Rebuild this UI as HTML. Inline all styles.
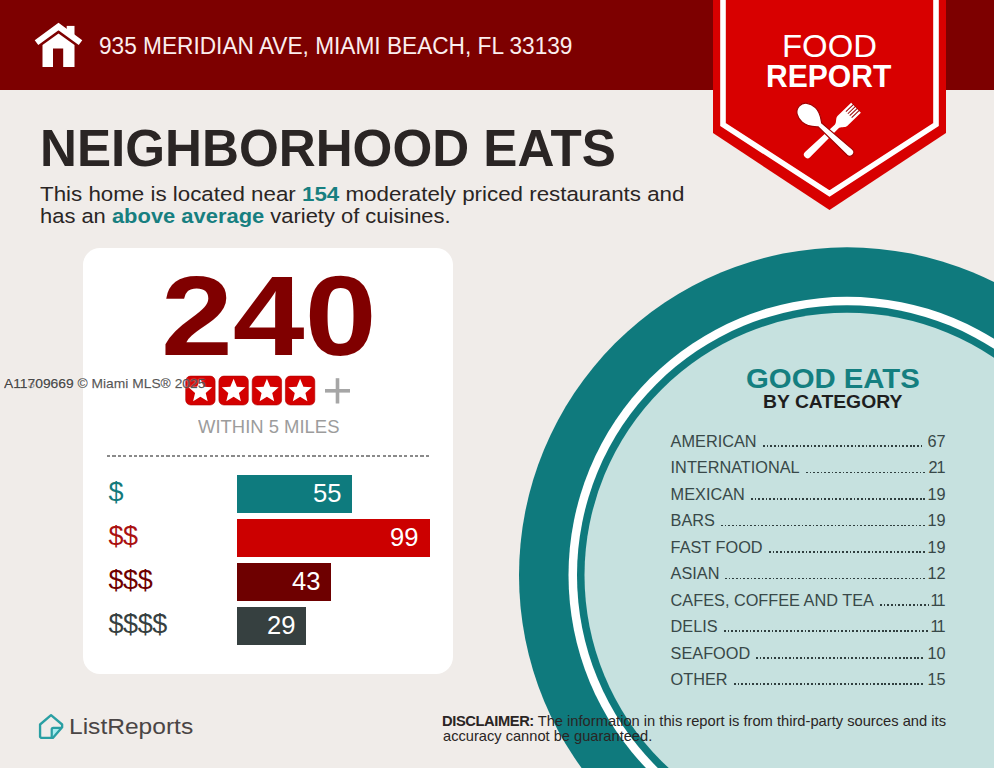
<!DOCTYPE html>
<html><head><meta charset="utf-8">
<style>
html,body{margin:0;padding:0;}
body{width:994px;height:768px;overflow:hidden;position:relative;background:#f0ece9;font-family:"Liberation Sans",sans-serif;}
.a{position:absolute;white-space:nowrap;}
#hdr{position:absolute;left:0;top:0;width:994px;height:90px;background:#7d0000;}
.row{position:absolute;left:670.6px;width:275px;display:flex;align-items:baseline;font-size:16.3px;line-height:16.3px;color:#384848;white-space:nowrap;}
.row .dt{flex:1;height:1.7px;margin:0 5px 0 6px;background:repeating-linear-gradient(90deg,#2f3f3f 0 1.7px,transparent 1.7px 3.67px);}
</style></head><body>
<div id="hdr"></div>

<!-- teal circle -->
<svg class="a" style="left:0;top:0" width="994" height="768">
  <circle cx="847" cy="575.3" r="328" fill="#0f7a7d"/>
  <circle cx="847" cy="575.3" r="278.5" fill="#ffffff"/>
  <circle cx="847" cy="575.3" r="270" fill="#0f7a7d"/>
  <circle cx="847" cy="575.3" r="262.5" fill="#c6e1df"/>
</svg>

<!-- banner -->
<svg class="a" style="left:0;top:0" width="994" height="768">
  <polygon points="713,0 946,0 946,133 829.5,210 713,133" fill="#d80000"/>
  <polyline points="723,-5 723,124.5 829.5,193.5 936,124.5 936,-5" fill="none" stroke="#ffffff" stroke-width="5.6"/>
</svg>

<!-- house icon -->
<svg class="a" style="left:0;top:0" width="100" height="90">
  <rect x="66.7" y="25.9" width="7.8" height="9.5" fill="#fff"/>
  <polyline points="36.5,42.7 58.5,26.5 80.5,42.7" fill="none" stroke="#fff" stroke-width="6" stroke-linejoin="miter"/>
  <path d="M42.5,45 L58.5,33.4 L74.5,45 L74.5,67 L63.2,67 L63.2,48.6 L53,48.6 L53,67 L42.5,67 Z" fill="#fff"/>
</svg>

<div class="a" id="addr" style="left:99.04px;top:35px;font-size:23.57px;line-height:23.57px;color:#fbeeee;transform:scaleX(0.9616);transform-origin:0 0;">935 MERIDIAN AVE, MIAMI BEACH, FL 33139</div>

<div class="a" id="title" style="left:39.99px;top:123.13px;font-size:51.00px;line-height:51.00px;font-weight:bold;color:#2a2524;transform:scaleX(1.0030);transform-origin:0 0;">NEIGHBORHOOD EATS</div>

<div class="a" id="sub1" style="left:40.38px;top:183.8px;font-size:20.71px;line-height:20.71px;color:#2a2524;transform:scaleX(1.0789);transform-origin:0 0;">This home is located near <b style="color:#177f80">154</b> moderately priced restaurants and</div>
<div class="a" id="sub2" style="left:39.8px;top:206.2px;font-size:20.71px;line-height:20.71px;color:#2a2524;transform:scaleX(1.0587);transform-origin:0 0;">has an <b style="color:#177f80">above average</b> variety of cuisines.</div>

<!-- card -->
<div class="a" style="left:83.2px;top:247.8px;width:369.8px;height:426.4px;background:#ffffff;border-radius:17px;"></div>

<div class="a" id="big" style="left:160.89px;top:258.9px;font-size:113.8px;line-height:113.8px;font-weight:bold;color:#800000;transform:scaleX(1.1352);transform-origin:0 0;">240</div>

<div class="a" id="within" style="left:198.00px;top:416.72px;font-size:19.00px;line-height:19.00px;color:#9c9c9c;transform:scaleX(0.9710);transform-origin:0 0;">WITHIN 5 MILES</div>

<div class="a" style="left:107.1px;top:455.1px;width:322.2px;height:1.6px;background:repeating-linear-gradient(90deg,#8a8a8a 0 3.2px,transparent 3.2px 5.405px);"></div>

<!-- bars -->
<div class="a" style="left:236.5px;top:475px;width:115px;height:37.5px;background:#0e7b7e;"></div>
<div class="a" style="left:236.5px;top:519px;width:193px;height:37.5px;background:#cc0000;"></div>
<div class="a" style="left:236.5px;top:563px;width:94px;height:37.5px;background:#6e0000;"></div>
<div class="a" style="left:236.5px;top:607px;width:69px;height:37.5px;background:#364040;"></div>

<div class="a" id="dl1" style="left:108.6px;top:478.7px;font-size:27px;line-height:27px;letter-spacing:-0.5px;color:#137a7b;">$</div>
<div class="a" id="dl2" style="left:108.6px;top:522.7px;font-size:27px;line-height:27px;letter-spacing:-0.5px;color:#aa1111;">$$</div>
<div class="a" id="dl3" style="left:108.6px;top:566.7px;font-size:27px;line-height:27px;letter-spacing:-0.5px;color:#6e0000;">$$$</div>
<div class="a" id="dl4" style="left:108.6px;top:610.9px;font-size:27px;line-height:27px;letter-spacing:-0.5px;color:#364040;">$$$$</div>


<!-- bar numbers -->
<div class="a" style="left:236.5px;top:475px;width:105px;height:37.5px;line-height:37.5px;text-align:right;font-size:25.6px;color:#fff;" id="bn1">55</div>
<div class="a" style="left:236.5px;top:519px;width:182px;height:37.5px;line-height:37.5px;text-align:right;font-size:25.6px;color:#fff;" id="bn2">99</div>
<div class="a" style="left:236.5px;top:563px;width:84px;height:37.5px;line-height:37.5px;text-align:right;font-size:25.6px;color:#fff;" id="bn3">43</div>
<div class="a" style="left:236.5px;top:607px;width:59px;height:37.5px;line-height:37.5px;text-align:right;font-size:25.6px;color:#fff;" id="bn4">29</div>

<!-- stars -->
<svg class="a" style="left:0;top:0" width="460" height="420">
  <defs>
    <g id="sb">
      <rect x="0.3" y="0.3" width="29.4" height="28.9" rx="5" fill="#d40000" stroke="#b00000" stroke-width="0.6"/>
      <polygon fill="#fff" points="15.00,3.00 18.29,10.87 26.79,11.57 20.33,17.13 22.29,25.43 15.00,21.00 7.71,25.43 9.67,17.13 3.21,11.57 11.71,10.87"/>
    </g>
  </defs>
  <use href="#sb" x="185.4" y="375.8"/>
  <use href="#sb" x="218.6" y="375.8"/>
  <use href="#sb" x="251.9" y="375.8"/>
  <use href="#sb" x="285.1" y="375.8"/>
  <rect x="325" y="389" width="25" height="3.6" fill="#a6a6a6"/>
  <rect x="335.7" y="378.2" width="3.6" height="25.3" fill="#a6a6a6"/>
</svg>

<!-- watermark -->
<div class="a" id="wm" style="left:4.00px;top:377.31px;font-size:13.57px;line-height:13.57px;color:rgba(60,60,60,0.85);text-shadow:0 0 1.5px rgba(255,255,255,0.9);-webkit-text-stroke:0.25px rgba(60,60,60,0.6);transform:scaleX(1.0188);transform-origin:0 0;">A11709669 © Miami MLS® 2025</div>
<div class="a" style="left:4.00px;top:377.31px;font-size:13.57px;line-height:13.57px;color:rgba(60,60,60,0.45);transform:scaleX(1.0188);transform-origin:0 0;">A11309069</div>

<!-- food report text -->
<div class="a" id="food" style="left:781.56px;top:31.3px;font-size:31.95px;line-height:31.95px;color:#fff;transform:scaleX(1.0295);transform-origin:0 0;">FOOD</div>
<div class="a" id="report" style="left:766.21px;top:60.2px;font-size:32.1px;line-height:32.1px;font-weight:bold;color:#fff;transform:scaleX(0.9379);transform-origin:0 0;">REPORT</div>

<!-- spoon & fork -->
<svg class="a" style="left:0;top:0" width="994" height="220">
  <g transform="translate(856,107.8) rotate(136)">
    <path d="M0,-7 L19,-7 C22,-7 24,-2.6 27,-2.6 L67.4,-3.6 A3.6,3.6 0 0 1 67.4,3.6 L27,2.6 C24,2.6 22,7 19,7 L0,7 Z" fill="#fff"/>
    <rect x="-1" y="-4.6" width="11" height="1" fill="#9a0000"/>
    <rect x="-1" y="-1.8" width="11" height="1" fill="#9a0000"/>
    <rect x="-1" y="0.9" width="11" height="1" fill="#9a0000"/>
    <rect x="-1" y="3.7" width="11" height="1" fill="#9a0000"/>
  </g>
  <g transform="translate(799.2,106.1) rotate(42.4)">
    <path d="M0,0 C0,-6.5 6,-9.8 13,-9.8 C20,-9.8 25,-5 28,-2.6 L68.5,-4 A4,4 0 0 1 68.5,4 L28,2.6 C25,5 20,9.8 13,9.8 C6,9.8 0,6.5 0,0 Z" fill="#fff" stroke="#a00000" stroke-width="1.2"/>
  </g>
</svg>

<!-- good eats -->
<div class="a" id="ge" style="left:745.66px;top:363.55px;font-size:28.3px;line-height:28.3px;font-weight:bold;color:#147f80;transform:scaleX(1.0367);transform-origin:0 0;">GOOD EATS</div>
<div class="a" id="bc" style="left:762.96px;top:393.45px;font-size:18.57px;line-height:18.57px;font-weight:bold;color:#1e1e1e;transform:scaleX(1.0417);transform-origin:0 0;">BY CATEGORY</div>

<!-- list -->
<div class="row" style="top:432.80px"><span class="lb">AMERICAN</span><span class="dt" style="margin-right:5.5px"></span><span class="nm" style="">67</span></div>
<div class="row" style="top:459.28px"><span class="lb">INTERNATIONAL</span><span class="dt" style="margin-right:2.9px"></span><span class="nm" style=""><span style="letter-spacing:-1px">2</span>1</span></div>
<div class="row" style="top:485.76px"><span class="lb">MEXICAN</span><span class="dt" style="margin-right:2px"></span><span class="nm" style="">19</span></div>
<div class="row" style="top:512.24px"><span class="lb">BARS</span><span class="dt" style="margin-right:2px"></span><span class="nm" style="">19</span></div>
<div class="row" style="top:538.72px"><span class="lb">FAST FOOD</span><span class="dt" style="margin-right:2px"></span><span class="nm" style="">19</span></div>
<div class="row" style="top:565.20px"><span class="lb">ASIAN</span><span class="dt" style="margin-right:2px"></span><span class="nm" style="">12</span></div>
<div class="row" style="top:591.68px"><span class="lb">CAFES, COFFEE AND TEA</span><span class="dt" style="margin-right:0.5px"></span><span class="nm" style=""><span style="letter-spacing:-3px">1</span>1</span></div>
<div class="row" style="top:618.16px"><span class="lb">DELIS</span><span class="dt" style="margin-right:0.5px"></span><span class="nm" style=""><span style="letter-spacing:-3px">1</span>1</span></div>
<div class="row" style="top:644.64px"><span class="lb">SEAFOOD</span><span class="dt" style="margin-right:2.5px"></span><span class="nm" style="">10</span></div>
<div class="row" style="top:671.12px"><span class="lb">OTHER</span><span class="dt" style="margin-right:2px"></span><span class="nm" style="">15</span></div>


<!-- logo -->
<svg class="a" style="left:0;top:0" width="80" height="768">
 <g transform="translate(51.1,726.5) scale(1.12) translate(-51.05,-726.4)">
  <path d="M60.8,727.6 L52.8,727.6 Q51.6,727.6 51.6,728.8 L51.6,736.6 Z" fill="#a8ecef"/>
  <path d="M41.2,735.6 L41.2,724.6 L51,716.3 L60.9,724.6 L60.9,727 L52.6,736.6 L42.2,736.6 Z" fill="none" stroke="#2a9fa3" stroke-width="2.1" stroke-linejoin="round"/>
  <path d="M60.6,727.6 L53,727.6 Q51.6,727.6 51.6,729 L51.6,736.4" fill="none" stroke="#2a9fa3" stroke-width="2.0" stroke-linejoin="round"/>
 </g>
</svg>
<div class="a" id="lr" style="left:68.67px;top:716.2px;font-size:22.6px;line-height:22.6px;color:#4a4545;transform:scaleX(1.0866);transform-origin:0 0;">ListReports</div>

<!-- disclaimer -->
<div class="a" id="d1" style="left:442.35px;top:714.1px;font-size:14.5px;line-height:14.5px;color:#2a2524;transform:scaleX(1.0133);transform-origin:0 0;"><b style="letter-spacing:-0.4px">DISCLAIMER:</b> The information in this report is from third-party sources and its</div>
<div class="a" id="d2" style="left:442.76px;top:728.6px;font-size:14.5px;line-height:14.5px;color:#2a2524;transform:scaleX(1.0098);transform-origin:0 0;">accuracy cannot be guaranteed.</div>
</body></html>
